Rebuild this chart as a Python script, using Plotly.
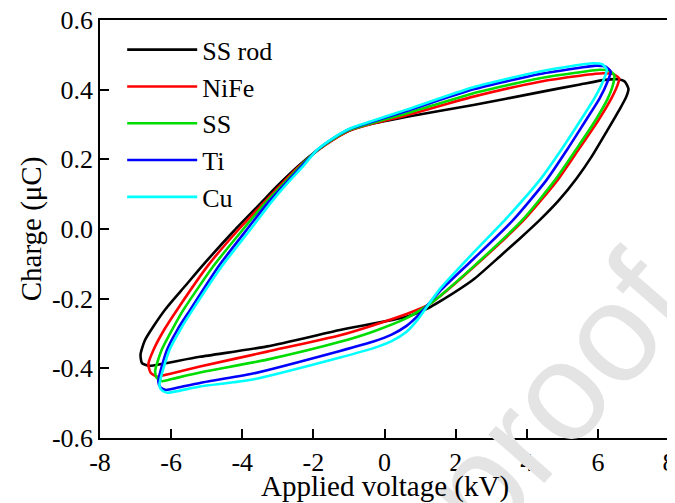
import plotly.graph_objects as go

names = ["SS rod", "NiFe", "SS", "Ti", "Cu"]
colors = ["#000000", "#ff0000", "#00dd00", "#0000ff", "#00ffff"]

# Lissajous loops: applied voltage (kV), charge (uC)
v_ssrod = [2.50, 4.37, 5.50, 6.20, 6.55, 6.76, 6.86, 6.80, 6.62, 6.27, 5.82, 5.40, 4.90, 4.37, 3.80, 3.25, 2.50,
           1.56, 1.25, 0.62, -1.25, -3.30, -5.19, -6.20, -6.62, -6.82, -6.86, -6.74, -6.50, -6.15, -5.60, -5.10,
           -4.23, -3.50, -3.03, -2.40, -1.90, -1.40, -1.00, -0.60, 0.63, 2.50]
q_ssrod = [0.356, 0.393, 0.415, 0.428, 0.430, 0.423, 0.402, 0.380, 0.345, 0.284, 0.207, 0.145, 0.082, 0.026,
           -0.028, -0.078, -0.145, -0.208, -0.226, -0.252, -0.290, -0.337, -0.367, -0.386, -0.393, -0.385, -0.360,
           -0.320, -0.280, -0.229, -0.163, -0.103, -0.005, 0.072, 0.122, 0.183, 0.225, 0.260, 0.282, 0.296, 0.322,
           0.356]

v_nife = [2.50, 4.37, 5.50, 6.15, 6.45, 6.60, 6.56, 6.38, 6.00, 5.47, 4.87, 3.92, 2.50, 1.56, 1.23, 0.62, -0.31,
          -1.25, -3.30, -5.19, -6.05, -6.40, -6.58, -6.64, -6.50, -6.20, -5.84, -4.95, -4.09, -3.40, -2.98, -2.40,
          -1.90, -1.40, -1.00, -0.50, 0.60, 2.50]
q_nife = [0.380, 0.423, 0.440, 0.447, 0.444, 0.432, 0.415, 0.375, 0.310, 0.230, 0.141, 0.026, -0.110, -0.193,
          -0.218, -0.244, -0.276, -0.305, -0.352, -0.395, -0.416, -0.424, -0.412, -0.388, -0.348, -0.290, -0.233,
          -0.103, 0.000, 0.075, 0.120, 0.180, 0.224, 0.259, 0.282, 0.298, 0.326, 0.380]

v_ss = [2.50, 4.37, 5.50, 6.05, 6.33, 6.46, 6.44, 6.28, 5.92, 5.40, 4.80, 3.88, 2.50, 1.56, 1.23, 0.62, -0.31,
        -1.25, -3.30, -5.19, -5.95, -6.25, -6.40, -6.45, -6.27, -5.95, -5.66, -4.80, -3.97, -3.35, -2.93, -2.35,
        -1.90, -1.40, -1.00, -0.50, 0.60, 2.50]
q_ss = [0.390, 0.433, 0.450, 0.457, 0.454, 0.442, 0.420, 0.375, 0.310, 0.230, 0.141, 0.026, -0.108, -0.192,
        -0.218, -0.256, -0.294, -0.324, -0.375, -0.412, -0.430, -0.437, -0.428, -0.408, -0.348, -0.285, -0.233,
        -0.105, 0.000, 0.075, 0.120, 0.182, 0.225, 0.261, 0.284, 0.300, 0.331, 0.390]

v_ti = [2.50, 4.37, 5.50, 5.95, 6.22, 6.36, 6.28, 6.05, 5.65, 5.15, 4.56, 3.62, 2.50, 1.56, 1.23, 0.95, 0.62, 0.20,
        -0.31, -1.25, -3.70, -5.19, -5.80, -6.15, -6.30, -6.36, -6.12, -5.80, -5.47, -4.65, -3.86, -3.28, -2.88,
        -2.30, -1.90, -1.40, -1.00, -0.50, 0.60, 2.50]
q_ti = [0.401, 0.445, 0.463, 0.469, 0.466, 0.452, 0.425, 0.375, 0.310, 0.230, 0.141, 0.026, -0.086, -0.178,
        -0.216, -0.248, -0.278, -0.303, -0.323, -0.350, -0.415, -0.442, -0.455, -0.462, -0.455, -0.438, -0.348,
        -0.285, -0.233, -0.105, 0.000, 0.075, 0.120, 0.184, 0.226, 0.263, 0.286, 0.303, 0.338, 0.401]

v_cu = [2.50, 4.37, 5.40, 5.85, 6.12, 6.25, 6.15, 5.90, 5.50, 5.00, 4.37, 3.44, 2.50, 1.56, 1.23, 0.95, 0.62, 0.20,
        -0.31, -1.25, -3.70, -5.19, -5.80, -6.10, -6.25, -6.33, -6.05, -5.72, -5.40, -4.56, -3.76, -3.20, -2.83,
        -2.25, -1.90, -1.40, -1.00, -0.50, 0.60, 2.50]
q_cu = [0.407, 0.452, 0.470, 0.476, 0.473, 0.458, 0.425, 0.375, 0.310, 0.232, 0.141, 0.032, -0.068, -0.172,
        -0.218, -0.258, -0.295, -0.322, -0.342, -0.369, -0.432, -0.452, -0.465, -0.470, -0.464, -0.450, -0.348,
        -0.285, -0.233, -0.105, 0.000, 0.075, 0.120, 0.185, 0.227, 0.264, 0.287, 0.305, 0.342, 0.407]

series_v = [v_ssrod, v_nife, v_ss, v_ti, v_cu]
series_q = [q_ssrod, q_nife, q_ss, q_ti, q_cu]

x_ticks = [-8, -6, -4, -2, 0, 2, 4, 6, 8]
y_ticks = [-0.6, -0.4, -0.2, 0.0, 0.2, 0.4, 0.6]
y_labels = ["-0.6", "-0.4", "-0.2", "0.0", "0.2", "0.4", "0.6"]

FONT = "Times New Roman, Liberation Serif, serif"

fig = go.Figure()

fig.add_annotation(text="proof", xref="paper", yref="paper", x=0.80, y=0.10, xanchor="center", yanchor="middle",
                   showarrow=False, textangle=-49,
                   font=dict(family="Liberation Sans, Arial, sans-serif", size=140, color="#e4e4e4"))

for name, col, vv, qq in zip(names, colors, series_v, series_q):
    fig.add_trace(go.Scatter(x=vv, y=qq, mode="lines", name=name,
                             line=dict(color=col, width=2.6, shape="spline", smoothing=0.6)))

axis_common = dict(showline=True, linecolor="black", linewidth=1.5, mirror=True, ticks="inside",
                   ticklen=9, tickwidth=1.5, tickcolor="black", showgrid=False, zeroline=False,
                   automargin=False, ticklabeloverflow="allow",
                   tickfont=dict(family=FONT, size=26, color="black"),
                   minor=dict(ticks="inside", ticklen=5, tickwidth=1.5, tickcolor="black", nticks=2))

fig.update_xaxes(range=[-8, 8], tickvals=x_ticks, ticktext=[str(t) for t in x_ticks], **axis_common)
fig.update_yaxes(range=[-0.6, 0.6], tickvals=y_ticks, ticktext=y_labels,
                 title=dict(text="Charge (μC)", font=dict(family=FONT, size=29, color="black"), standoff=2),
                 **axis_common)

# x-axis title placed as a paper annotation so it sits as close to the tick labels as in the original
fig.add_annotation(text="Applied voltage (kV)", xref="paper", yref="paper", x=0.5, y=-0.115,
                   xanchor="center", yanchor="middle", showarrow=False,
                   font=dict(family=FONT, size=29, color="black"))

# the page body adds an 8 px offset, so margins are reduced by 8 px on the left and top
fig.update_layout(width=675, height=503, margin=dict(l=92, r=14, t=12, b=73),
                  paper_bgcolor="white", plot_bgcolor="white",
                  legend=dict(x=0.039, y=0.985, xanchor="left", yanchor="top", bgcolor="rgba(0,0,0,0)",
                              font=dict(family=FONT, size=26, color="black"), itemwidth=70,
                              tracegroupgap=0),
                  showlegend=True)

fig.write_html("out.html")
